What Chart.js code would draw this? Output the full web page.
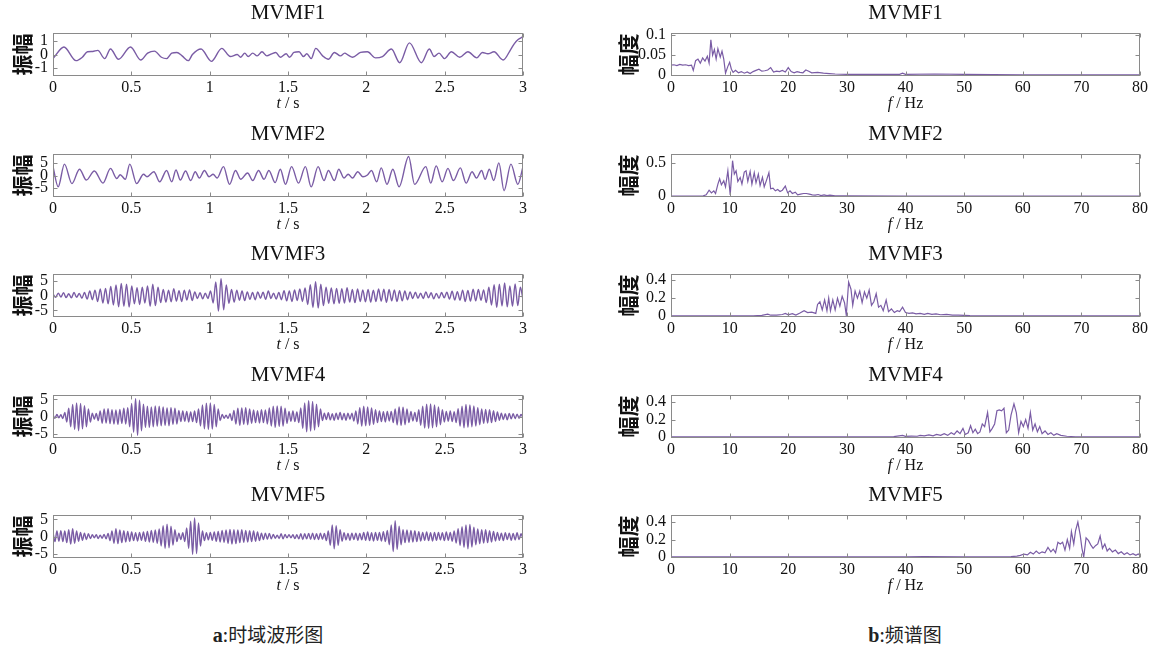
<!DOCTYPE html>
<html>
<head>
<meta charset="utf-8">
<script src="https://cdn.jsdelivr.net/npm/chart.js@4.4.0/dist/chart.umd.min.js"></script>
<style>
  body { margin: 0; width: 1152px; height: 645px; background: #fff; position: relative; overflow: hidden; }
  canvas { position: absolute; }
  .cap { position: absolute; top: 620px; transform: translateX(-50%); font: 19px "Noto Sans CJK SC"; color: #222; white-space: nowrap; }
  .cap b { font: bold 20px "Liberation Serif"; }
</style>
</head>
<body>
<div class="cap" style="left:268px"><b>a</b>:时域波形图</div>
<div class="cap" style="left:905px"><b>b</b>:频谱图</div>
<script>
// time domain, MVMF1 / MVMF2: extrema times (s) and values
const t1 = [0,0.070,0.147,0.187,0.220,0.253,0.286,0.330,0.367,0.418,
  0.495,0.560,0.604,0.648,0.692,0.725,0.758,0.791,0.824,0.864,
  0.890,0.945,1.011,1.077,1.132,1.176,1.198,1.224,1.246,1.275,
  1.303,1.334,1.365,1.396,1.422,1.451,1.488,1.510,1.538,1.571,
  1.598,1.620,1.648,1.677,1.721,1.758,1.796,1.835,1.862,1.884,
  1.912,1.963,2.007,2.059,2.103,2.160,2.213,2.275,2.352,2.402,
  2.433,2.464,2.499,2.543,2.596,2.648,2.705,2.741,2.776,2.815,
  2.873,2.923,2.945,2.969,3.000];
const v1 = [-0.3,0.55,-0.45,-0.2,0.2,0.22,0.3,-0.3,0.4,-0.35,
  0.55,-0.4,0.1,0.25,-0.2,-0.3,0.1,0.15,-0.1,-0.45,
  0.0,0.4,-0.5,0.45,-0.15,0.0,-0.2,0.1,-0.15,0.1,
  -0.1,0.2,-0.1,0.05,0.15,-0.2,0.05,-0.2,0.15,0.2,
  -0.15,0.05,-0.3,0.45,-0.1,-0.35,0.15,-0.1,0.1,-0.05,
  -0.2,0.15,0.2,-0.25,-0.15,0.4,-0.6,0.85,-0.6,0.4,
  -0.15,0.1,-0.3,0.2,-0.2,0.2,-0.25,0.15,0.05,0.2,
  -0.4,0.4,0.8,1.1,1.3];

const t2 = [0,0.033,0.073,0.121,0.169,0.213,0.264,0.319,0.367,0.407,
  0.429,0.462,0.490,0.534,0.578,0.600,0.644,0.681,0.725,0.758,
  0.785,0.813,0.846,0.879,0.908,0.934,0.967,0.996,1.022,1.048,
  1.088,1.127,1.165,1.198,1.242,1.275,1.312,1.347,1.378,1.418,
  1.451,1.484,1.523,1.567,1.611,1.648,1.692,1.730,1.758,1.796,
  1.824,1.857,1.884,1.912,1.945,1.978,2.007,2.033,2.066,2.095,
  2.132,2.169,2.209,2.270,2.308,2.380,2.411,2.446,2.484,2.521,
  2.556,2.600,2.637,2.675,2.703,2.736,2.758,2.785,2.813,2.846,
  2.879,2.923,2.967,3.000];
const v2 = [3.5,-4.5,4.5,-3.2,2.5,-1.8,1.8,-3.0,2.8,-1.2,
  0.3,-1.5,4.5,-3.2,0.5,-0.5,1.5,-2.5,2.0,-2.5,
  2.2,-1.8,1.8,-2.0,1.5,-1.0,2.0,-0.5,0.5,-1.0,
  3.5,-3.5,2.0,-1.5,1.0,-2.0,2.0,-1.5,2.0,-2.8,
  2.5,-3.5,3.5,-3.0,3.5,-4.5,3.5,-2.0,2.0,-2.0,
  2.5,-1.0,0.5,-1.0,1.5,-0.5,0.2,2.0,-2.5,3.0,
  -3.5,2.5,-4.5,7.5,-3.5,3.5,-3.0,3.8,-2.5,2.8,
  -2.0,3.0,-3.0,1.5,-1.0,2.0,-1.5,2.5,-2.0,5.0,
  -6.0,4.5,-3.5,3.5];

// MVMF3..5: successive half-cycle extrema, evenly spaced over 0..3 s
const v3 = [0.5,-0.6,0.8,-0.5,0.9,-0.7,0.6,-0.8,1.0,-0.6,0.7,-0.9,
  1.0,-1.2,1.5,-1.4,1.8,-2.0,2.2,-2.5,2.4,-2.8,3.0,-3.2,
  3.5,-3.8,4.0,-3.6,3.8,-3.9,
  3.2,-2.8,2.6,-3.0,2.8,-2.5,
  3.2,-3.6,3.8,-3.4,2.8,-2.4,
  2.0,-2.2,1.8,-2.1,2.3,-1.9,1.6,-2.0,
  1.8,-1.5,1.9,-1.7,1.2,-1.0,
  0.9,-1.1,0.8,-1.0,1.5,-2.5,
  4.5,-5.2,5.6,-4.8,3.5,-2.6,
  2.0,-2.2,1.8,-1.6,1.5,-1.7,1.2,-1.3,
  1.0,-1.4,1.2,-0.9,1.1,-1.3,1.5,-1.0,0.8,-1.2,1.0,-1.4,
  1.6,-1.8,1.5,-2.0,1.9,-1.7,2.2,-2.0,2.5,-3.0,
  3.6,-4.0,4.6,-4.2,3.8,-3.4,
  2.8,-2.6,2.5,-2.8,2.4,-2.6,2.3,-2.5,2.6,-2.2,2.0,-2.4,2.2,-2.0,
  1.9,-2.1,2.0,-2.2,1.8,-2.0,2.2,-1.9,2.1,-2.3,2.0,-1.8,1.9,-2.0,1.6,-1.8,1.5,-1.4,1.2,
  -1.0,1.1,-0.9,0.8,-1.0,1.2,-0.8,0.9,-1.1,0.7,-0.9,1.0,-0.8,1.1,-1.2,1.4,-1.5,1.3,
  -1.6,1.8,-2.0,1.7,-1.9,2.1,-1.8,2.0,-1.6,1.9,-2.4,
  2.8,-3.2,3.6,-4.0,3.8,-3.5,4.2,-3.8,3.2,-3.6,3.9,-3.4,2.8,-1.5];

const v4 = [0.4,-0.5,0.6,-0.4,0.5,-0.6,1.2,-1.6,
  2.4,-3.0,3.5,-3.8,4.0,-4.2,3.8,-3.6,3.2,-3.0,2.2,-1.6,
  1.0,-0.8,0.9,-1.2,
  1.6,-2.0,2.2,-1.9,2.3,-2.1,2.0,-2.2,1.9,-2.3,2.1,-2.0,2.4,-2.2,2.6,-3.0,
  3.8,-4.6,5.2,-5.5,4.8,-4.2,3.6,-3.2,3.0,
  -3.2,2.8,-3.0,3.1,-2.9,3.0,-2.7,2.8,-2.6,2.5,-2.7,2.6,-2.3,2.4,-2.2,
  1.8,-1.5,1.6,-1.4,1.5,-1.6,1.3,-1.5,1.6,-1.8,2.2,-2.8,
  3.4,-3.6,3.9,-3.8,4.0,-3.7,3.5,-3.0,2.2,-1.2,
  0.6,-0.5,0.4,-0.6,0.8,-1.2,
  1.8,-2.2,2.4,-2.6,2.5,-2.3,2.6,-2.4,2.2,-2.0,1.9,-1.8,
  1.7,-1.9,2.0,-1.8,1.9,-2.2,2.5,-2.8,
  3.0,-3.2,3.1,-2.9,3.0,-2.8,2.4,-2.0,
  1.5,-1.4,1.6,-1.5,1.3,-1.8,2.5,
  -3.5,4.0,-4.5,4.6,-4.3,4.4,-4.0,3.6,-3.0,2.2,
  -1.2,1.0,-0.9,1.1,-1.0,0.8,-1.1,1.0,-0.9,1.2,-1.0,0.9,-1.1,1.0,-0.8,1.0,-1.3,1.6,
  -2.2,2.6,-2.8,3.0,-2.7,2.8,-2.6,2.5,-2.3,2.0,-1.8,1.6,
  -1.5,1.4,-1.6,1.5,-1.3,1.5,-1.8,2.2,
  -2.5,2.8,-2.6,2.7,-2.4,2.2,-1.8,1.5,
  -1.3,1.2,-1.5,2.0,
  -2.6,3.0,-3.4,3.6,-3.5,3.7,-3.3,3.4,-3.0,2.8,-2.4,2.0,
  -1.6,1.5,-1.4,1.6,-1.5,1.4,-1.8,2.3,
  -2.8,3.0,-3.3,3.5,-3.2,3.4,-3.0,3.1,-2.8,2.6,-2.4,2.2,
  -2.0,2.1,-1.9,2.0,-1.8,1.7,-1.5,1.3,
  -1.1,1.0,-0.9,0.8,-1.0,0.9,-0.7,0.8,-0.6,0.7,-0.5,0.6,-0.4];

const v5 = [1.2,-1.5,1.6,-1.4,1.7,-1.5,1.6,-1.8,
  2.0,-2.2,2.3,-2.0,
  1.6,-1.4,1.2,-1.1,1.0,-0.9,0.8,
  -0.6,0.5,-0.4,0.5,-0.6,0.4,-0.5,0.6,-0.7,0.9,-1.2,
  1.6,-2.0,2.3,-2.1,1.9,-1.8,1.7,-1.6,1.5,-1.4,1.3,
  -1.2,1.1,-1.3,1.2,-1.1,1.3,-1.4,1.5,-1.6,
  1.8,-1.7,1.9,-2.0,2.2,
  -2.8,3.2,-3.5,3.6,-3.3,3.0,-2.5,2.0,-1.5,
  1.0,-0.9,1.1,-1.5,
  2.5,-3.5,4.5,-5.2,5.4,-5.0,4.0,-2.8,
  1.6,-1.2,1.1,-1.0,1.2,-1.1,1.3,-1.4,1.5,
  -1.6,1.8,-1.7,1.9,-2.0,2.1,-2.2,2.0,-2.1,1.9,-1.8,2.0,-1.7,1.8,-1.6,1.7,-1.5,1.6,-1.4,1.3,-1.2,
  1.0,-0.9,1.0,-0.8,0.9,-0.7,0.6,
  -0.5,0.4,-0.6,0.8,-0.7,0.6,-0.4,0.5,-0.4,0.5,-0.6,0.5,
  -0.7,0.8,-0.9,0.8,-0.7,0.9,-0.8,1.0,-0.9,0.8,-0.9,1.0,-0.8,0.9,-1.2,1.6,
  -2.6,3.4,-3.6,3.2,-2.6,2.0,-1.4,
  1.1,-1.0,0.9,-1.1,1.0,-0.9,1.0,-1.1,0.9,-1.0,1.2,
  -1.1,1.3,-1.2,1.1,-1.3,1.2,-1.1,1.2,-1.3,1.4,-1.5,1.8,-2.4,
  3.4,-4.4,4.6,-3.8,3.0,-2.4,2.0,
  -1.8,1.9,-1.7,1.8,-1.6,1.7,-1.5,1.4,-1.3,
  1.2,-1.1,1.3,-1.2,1.1,-1.3,1.2,-1.1,1.2,-1.0,1.1,-1.2,1.3,-1.1,1.2,-1.4,1.6,-1.9,
  2.3,-2.6,2.9,-3.2,3.4,-3.6,3.5,-3.1,
  2.7,-2.4,2.2,-2.1,2.0,-1.9,2.0,-1.8,1.7,-1.6,1.5,
  -1.3,1.2,-1.1,1.0,-1.2,1.1,-0.9,1.0,-1.1,0.9,-1.0,1.1,-0.9,0.8,-0.7];

// spectra: frequency (Hz) and amplitude
const f1 = [0,0.5,1,1.5,2,2.5,3,3.5,3.8,4.2,
  4.6,5,5.4,5.8,6.2,6.5,6.8,7.1,7.4,7.7,
  8.0,8.4,8.7,9.0,9.3,9.7,10.0,10.3,10.6,11,
  11.5,12,12.5,13,13.5,14,14.5,15,15.5,16,
  16.5,17,17.5,18,18.5,19,19.5,20,20.5,21,
  21.5,22,22.5,23,23.5,24,25,26,27,28,
  30,35,39,39.5,40,45,50,60,70,80];
const a1 = [0.025,0.026,0.024,0.027,0.025,0.026,0.024,0.025,0.012,0.036,
  0.040,0.030,0.043,0.035,0.047,0.030,0.088,0.050,0.064,0.040,
  0.066,0.045,0.060,0.040,0.005,0.022,0.032,0.015,0.007,0.012,
  0.006,0.009,0.005,0.008,0.004,0.009,0.012,0.015,0.010,0.011,
  0.013,0.019,0.008,0.010,0.009,0.012,0.008,0.019,0.009,0.006,
  0.009,0.007,0.006,0.013,0.010,0.006,0.007,0.005,0.004,0.003,
  0.002,0.002,0.002,0.005,0.002,0.003,0.002,0.001,0.001,0.001];

const f2 = [0,5,5.5,6,6.5,6.9,7.3,7.6,8.0,8.3,
  8.6,9.0,9.3,9.7,10.1,10.5,10.8,11.1,11.4,11.8,
  12.1,12.5,12.8,13.1,13.5,13.8,14.2,14.5,14.9,15.2,
  15.6,15.9,16.3,16.7,17.0,17.4,17.8,18.2,18.6,19.0,
  19.5,19.9,20.3,20.7,21.2,21.6,22.1,22.6,23.1,23.6,
  24.1,24.6,25.1,25.6,26.1,26.6,27.1,28,30,40,
  50,60,80];
const a2 = [0.002,0.002,0.005,0.02,0.09,0.05,0.08,0.04,0.18,0.26,
  0.17,0.23,0.14,0.38,0.02,0.53,0.33,0.38,0.22,0.28,
  0.18,0.36,0.38,0.22,0.37,0.18,0.35,0.20,0.33,0.16,
  0.28,0.14,0.24,0.35,0.11,0.12,0.08,0.10,0.07,0.09,
  0.15,0.05,0.08,0.04,0.06,0.02,0.03,0.04,0.04,0.03,
  0.02,0.015,0.025,0.01,0.02,0.01,0.015,0.005,0.004,0.003,
  0.002,0.002,0.002];

const f3 = [0,10,14,15.5,16.5,17,18,19,19.5,20,
  20.7,21.3,22,22.7,23.3,24,24.7,25,25.4,25.8,
  26.2,26.6,26.9,27.2,27.6,28,28.4,28.8,29.2,29.6,
  29.9,30.3,30.7,31.0,31.4,31.8,32.2,32.6,33.0,33.4,
  33.8,34.2,34.6,35.0,35.4,35.8,36.2,36.7,37.1,37.6,
  38.1,38.6,39.0,39.5,40.0,40.6,41.2,41.8,42.5,43.2,
  43.8,44.5,45.2,46,47,48,49,50,51,53,
  60,80];
const a3 = [0.002,0.003,0.004,0.008,0.022,0.010,0.012,0.018,0.030,0.015,
  0.028,0.012,0.035,0.060,0.040,0.045,0.030,0.13,0.16,0.07,
  0.18,0.06,0.20,0.06,0.18,0.07,0.20,0.11,0.22,0.15,
  0.01,0.38,0.30,0.12,0.28,0.20,0.28,0.15,0.27,0.20,
  0.29,0.12,0.16,0.25,0.10,0.12,0.06,0.18,0.05,0.08,
  0.04,0.06,0.05,0.10,0.04,0.03,0.035,0.025,0.03,0.02,
  0.03,0.02,0.025,0.015,0.02,0.01,0.012,0.008,0.005,0.003,
  0.002,0.002];

const f4 = [0,30,38,39.5,40,41,42,42.5,43.2,44,
  44.7,45.3,46,46.6,47.2,47.8,48.3,48.8,49.3,49.8,
  50.2,50.7,51.1,51.5,51.9,52.3,52.7,53.1,53.5,54.0,
  54.4,54.8,55.2,55.6,56.0,56.4,56.8,57.2,57.6,58.0,
  58.5,58.9,59.3,59.7,60.1,60.5,60.9,61.3,61.7,62.1,
  62.5,62.9,63.3,63.8,64.3,64.8,65.3,65.8,66.5,67.5,
  69,72,80];
const a4 = [0.002,0.003,0.005,0.02,0.008,0.012,0.01,0.02,0.015,0.025,
  0.015,0.03,0.02,0.04,0.02,0.05,0.03,0.07,0.04,0.10,
  0.03,0.05,0.13,0.05,0.09,0.04,0.06,0.15,0.12,0.28,
  0.06,0.10,0.15,0.30,0.31,0.30,0.33,0.05,0.08,0.25,
  0.38,0.28,0.05,0.18,0.12,0.20,0.10,0.28,0.08,0.15,
  0.06,0.12,0.04,0.07,0.03,0.05,0.02,0.04,0.02,0.01,
  0.004,0.003,0.002];

const f5 = [0,40,43,50,55,58,59,59.6,60.2,60.8,
  61.3,61.8,62.3,62.8,63.3,63.8,64.3,64.8,65.2,65.6,
  66.0,66.4,66.8,67.2,67.6,68.0,68.3,68.7,69.0,69.4,
  69.8,70.1,70.4,70.8,71.2,71.6,72.0,72.4,72.8,73.2,
  73.6,74.0,74.4,74.8,75.3,75.8,76.3,76.8,77.3,77.8,
  78.3,78.8,79.3,79.7,80];
const a5 = [0.002,0.003,0.005,0.004,0.003,0.005,0.012,0.02,0.035,0.025,
  0.055,0.035,0.07,0.04,0.06,0.05,0.11,0.06,0.09,0.05,
  0.17,0.15,0.17,0.08,0.20,0.10,0.29,0.15,0.30,0.40,
  0.25,0.10,0.00,0.22,0.19,0.14,0.10,0.13,0.15,0.24,
  0.10,0.15,0.07,0.10,0.06,0.08,0.04,0.06,0.03,0.05,
  0.025,0.04,0.02,0.035,0.02];

const names = ['MVMF1', 'MVMF2', 'MVMF3', 'MVMF4', 'MVMF5'];
const tTicks = [0, 0.5, 1, 1.5, 2, 2.5, 3];
const fTicks = [0, 10, 20, 30, 40, 50, 60, 70, 80];
const ampTicks = [[-1, 0, 1], [-5, 0, 5], [-5, 0, 5], [-5, 0, 5], [-5, 0, 5]];
const ampRange = [[-1.57, 1.57], [-8.5, 8.5], [-7.2, 7.2], [-6.3, 6.3], [-6.3, 6.3]];
const magTicks = [[0, 0.05, 0.1], [0, 0.5], [0, 0.2, 0.4], [0, 0.2, 0.4], [0, 0.2, 0.4]];
const magRange = [[-0.002, 0.105], [-0.012, 0.63], [-0.01, 0.47], [-0.01, 0.48], [-0.01, 0.48]];

const purple = '#7a5ca5';
const rowTop = [33, 153.5, 274, 394.5, 515];

function even(vals) {
  return vals.map((v, i) => ({ x: i * 3 / (vals.length - 1), y: v }));
}
function pairs(xs, ys) {
  return xs.map((x, i) => ({ x: x, y: ys[i] }));
}
const timeData = [pairs(t1, v1), pairs(t2, v2), even(v3), even(v4), even(v5)];
const specData = [pairs(f1, a1), pairs(f2, a2), pairs(f3, a3), pairs(f4, a4), pairs(f5, a5)];

// box, inward ticks and the texts round each plot
const frame = {
  id: 'frame',
  afterDraw(chart, args, o) {
    const { ctx, chartArea: a, scales: { x, y } } = chart;
    const L = Math.round(a.left) + 0.5, R = Math.round(a.right) - 0.5;
    const T = Math.round(a.top) + 0.5, B = Math.round(a.bottom) - 0.5;
    ctx.save();
    ctx.strokeStyle = '#8a8a8a';
    ctx.lineWidth = 1;
    ctx.strokeRect(L, T, R - L, B - T);
    ctx.beginPath();
    x.ticks.forEach(t => {
      const px = Math.round(x.getPixelForValue(t.value)) + 0.5;
      ctx.moveTo(px, B); ctx.lineTo(px, B - 4);
      ctx.moveTo(px, T); ctx.lineTo(px, T + 4);
    });
    y.ticks.forEach(t => {
      const py = Math.round(y.getPixelForValue(t.value)) + 0.5;
      ctx.moveTo(L, py); ctx.lineTo(L + 4, py);
      ctx.moveTo(R, py); ctx.lineTo(R - 4, py);
    });
    ctx.stroke();

    const cx = (a.left + a.right) / 2;
    ctx.fillStyle = '#111';
    ctx.textBaseline = 'middle';
    ctx.textAlign = 'center';
    ctx.font = '21px "Liberation Serif"';
    ctx.fillText(o.title, cx, a.top - 20);

    // x label with an italic symbol
    ctx.textAlign = 'left';
    const fonts = ['italic 16px "Liberation Serif"', '16px "Liberation Serif"'];
    let w = 0;
    o.xlab.forEach((s, i) => { ctx.font = fonts[i]; w += ctx.measureText(s).width; });
    let px = cx - w / 2;
    o.xlab.forEach((s, i) => { ctx.font = fonts[i]; ctx.fillText(s, px, a.bottom + 28); px += ctx.measureText(s).width; });

    ctx.translate(o.ylabX, (a.top + a.bottom) / 2);
    ctx.rotate(-Math.PI / 2);
    ctx.textAlign = 'center';
    ctx.font = 'bold 21px "Noto Sans CJK SC"';
    ctx.fillText(o.ylab, 0, 0);
    ctx.restore();
  }
};

function addPlot(left, width, top, yW, padR, data, smooth, xr, xt, yr, yt, opts) {
  const cv = document.createElement('canvas');
  cv.width = width; cv.height = 120;
  cv.style.left = left + 'px'; cv.style.top = top + 'px';
  document.body.appendChild(cv);
  const ds = { data: data, borderColor: purple, borderWidth: smooth ? 1.4 : 1.2, pointRadius: 0, fill: false, tension: 0 };
  if (smooth) ds.cubicInterpolationMode = 'monotone';
  new Chart(cv.getContext('2d'), {
    type: 'line',
    data: { datasets: [ds] },
    options: {
      responsive: false,
      animation: false,
      layout: { padding: { top: 33, right: padR, left: 0, bottom: 0 } },
      plugins: { legend: { display: false }, tooltip: { enabled: false }, frame: opts },
      scales: {
        x: {
          type: 'linear', min: xr[0], max: xr[1],
          afterBuildTicks: s => { s.ticks = xt.map(v => ({ value: v })); },
          afterFit: s => { s.height = 44; },
          grid: { display: false, drawTicks: false }, border: { display: false },
          ticks: { color: '#111', font: { family: 'Liberation Serif', size: 16 }, padding: 2, maxRotation: 0, autoSkip: false, callback: v => String(v) }
        },
        y: {
          min: yr[0], max: yr[1],
          afterBuildTicks: s => { s.ticks = yt.map(v => ({ value: v })); },
          afterFit: s => { s.width = yW; },
          grid: { display: false, drawTicks: false }, border: { display: false },
          ticks: { color: '#111', font: { family: 'Liberation Serif', size: 16 }, padding: 5, autoSkip: false, callback: v => String(v) }
        }
      }
    },
    plugins: [frame]
  });
}

for (let r = 0; r < 5; r++) {
  const top = rowTop[r] - 33;
  addPlot(0, 560, top, 53, 37, timeData[r], true, [0, 3], tTicks, ampRange[r], ampTicks[r],
    { title: names[r], xlab: ['t', ' / s'], ylab: '振幅', ylabX: 22 });
  addPlot(580, 572, top, 91, 12, specData[r], false, [0, 80], fTicks, magRange[r], magTicks[r],
    { title: names[r], xlab: ['f', ' / Hz'], ylab: '幅度', ylabX: 48 });
}
</script>
</body>
</html>
